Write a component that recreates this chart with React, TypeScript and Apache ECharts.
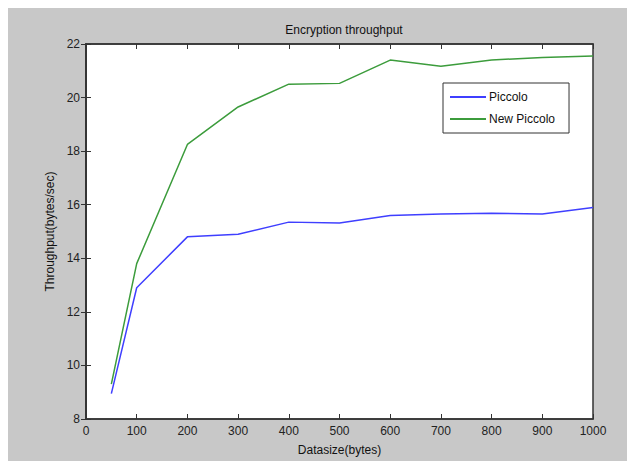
import React, { useEffect, useRef } from "react";
import * as echarts from "echarts";

const dataSizes = [50, 100, 200, 300, 400, 500, 600, 700, 800, 900, 1000];
const piccolo = [8.95, 12.9, 14.8, 14.9, 15.35, 15.32, 15.6, 15.65, 15.68, 15.65, 15.9];
const newPiccolo = [9.3, 13.8, 18.25, 19.65, 20.5, 20.53, 21.4, 21.17, 21.4, 21.5, 21.55];
const seriesNames = ["Piccolo", "New Piccolo"];

const FONT = "'Liberation Sans', Arial, sans-serif";

export default function App() {
  const ref = useRef<HTMLDivElement>(null);
  useEffect(() => {
    if (!ref.current) return;
    const chart = echarts.init(ref.current, null, { renderer: "svg" });
    const tick = { show: true, inside: true, length: 5, lineStyle: { color: "#333", width: 1 } };
    const axisLine = { show: true, lineStyle: { color: "#333", width: 1.5 } };
    chart.setOption({
      animation: false,
      backgroundColor: "#c8c8c8",
      textStyle: { fontFamily: FONT },
      title: {
        text: "Encryption throughput",
        left: 331,
        top: 11,
        textAlign: "center",
        textStyle: { fontSize: 12, fontWeight: "normal", color: "#111", fontFamily: FONT },
      },
      grid: {
        left: 78,
        top: 36,
        right: 42,
        bottom: 40,
        show: true,
        backgroundColor: "#ffffff",
        borderColor: "#333",
        borderWidth: 1.5,
      },
      legend: {
        orient: "vertical",
        left: 435,
        top: 75,
        data: seriesNames.map((n) => ({ name: n, icon: "rect" })),
        backgroundColor: "#ffffff",
        borderColor: "#333",
        borderWidth: 1,
        borderRadius: 0,
        padding: [8, 14, 8, 7],
        itemWidth: 36,
        itemHeight: 2,
        itemGap: 10,
        textStyle: { fontSize: 12, color: "#111", fontFamily: FONT, padding: [0, 0, 0, -2] },
      },
      xAxis: [
        {
          type: "value",
          min: 0,
          max: 1000,
          interval: 100,
          name: "Datasize(bytes)",
          nameLocation: "middle",
          nameGap: 25,
          nameTextStyle: { fontSize: 12, color: "#111", fontFamily: FONT },
          axisLine,
          axisTick: tick,
          axisLabel: { fontSize: 12, color: "#222", margin: 6, fontFamily: FONT, formatter: (v: number) => String(v) },
          splitLine: { show: false },
        },
        {
          type: "value",
          position: "top",
          min: 0,
          max: 1000,
          interval: 100,
          axisLine,
          axisTick: tick,
          axisLabel: { show: false },
          splitLine: { show: false },
        },
      ],
      yAxis: [
        {
          type: "value",
          min: 8,
          max: 22,
          interval: 2,
          name: "Throughput(bytes/sec)",
          nameLocation: "middle",
          nameGap: 28,
          nameTextStyle: { fontSize: 12, color: "#111", fontFamily: FONT },
          axisLine,
          axisTick: tick,
          axisLabel: { fontSize: 12, color: "#222", margin: 6, fontFamily: FONT },
          splitLine: { show: false },
        },
        {
          type: "value",
          position: "right",
          min: 8,
          max: 22,
          interval: 2,
          axisLine,
          axisTick: tick,
          axisLabel: { show: false },
          splitLine: { show: false },
        },
      ],
      series: [
        {
          name: seriesNames[0],
          type: "line",
          symbol: "none",
          data: dataSizes.map((x, i) => [x, piccolo[i]]),
          lineStyle: { color: "#3f3fff", width: 1.5 },
          itemStyle: { color: "#3f3fff" },
        },
        {
          name: seriesNames[1],
          type: "line",
          symbol: "none",
          data: dataSizes.map((x, i) => [x, newPiccolo[i]]),
          lineStyle: { color: "#3c9c3c", width: 1.5 },
          itemStyle: { color: "#3c9c3c" },
        },
      ],
    });
    return () => chart.dispose();
  }, []);
  return <div ref={ref} style={{ width: 627, height: 453 }} />;
}
